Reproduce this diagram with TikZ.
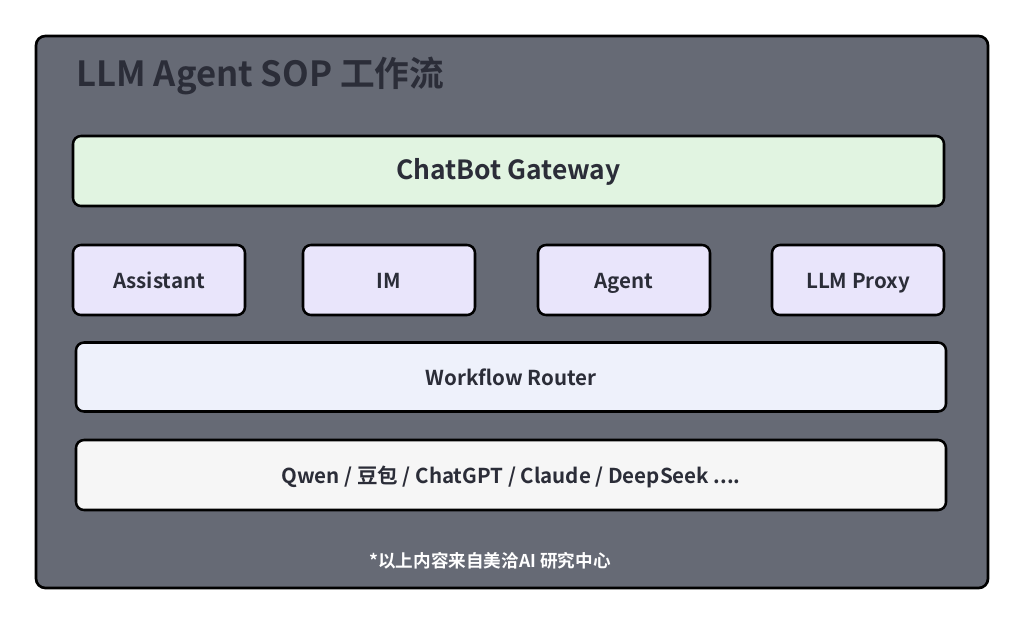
\documentclass[tikz,border=0pt]{standalone}
\usepackage{fontspec}
\setmainfont{Noto Sans CJK SC}[BoldFont={* Bold}]
\newfontfamily\cjkb{Noto Sans CJK SC Bold}
\definecolor{panel}{HTML}{666A75}
\definecolor{ink}{HTML}{2B2D38}
\definecolor{gw}{HTML}{E1F4E1}
\definecolor{lav}{HTML}{E9E5FB}
\definecolor{router}{HTML}{EEF1FB}
\definecolor{model}{HTML}{F6F6F6}
\tikzset{
  box/.style={draw=black, line width=1.9pt, rounded corners=6pt, inner sep=0pt, text=ink, text height=1.22em, text depth=0pt},
  lbl/.style={font=\cjkb\fontsize{15.4}{18}\selectfont},
}
\begin{document}
\begin{tikzpicture}[x=0.75pt,y=-0.75pt]
\useasboundingbox (0,0) rectangle (1024,625);
\fill[white] (0,0) rectangle (1024,625);
\draw[fill=panel, line width=2pt, rounded corners=7pt] (36,36) rectangle (988,588);
\node[anchor=base west, inner sep=0pt, text=ink, font=\cjkb\fontsize{26}{30}\selectfont] (title) at (76,86) {LLM Agent SOP 工作流};
\node[box, fill=gw, minimum width=871*0.75pt, minimum height=70*0.75pt, font=\cjkb\fontsize{19.8}{23}\selectfont] (gw) at (508.5,171) {ChatBot Gateway};
\node[box, lbl, fill=lav, minimum width=172*0.75pt, minimum height=70*0.75pt] (assistant) at (159,280) {Assistant};
\node[box, lbl, fill=lav, minimum width=172*0.75pt, minimum height=70*0.75pt] (im) at (389,280) {IM};
\node[box, lbl, fill=lav, minimum width=172*0.75pt, minimum height=70*0.75pt] (agent) at (624,280) {Agent};
\node[box, lbl, fill=lav, minimum width=172*0.75pt, minimum height=70*0.75pt] (proxy) at (858,280) {LLM Proxy};
\node[box, lbl, fill=router, minimum width=870*0.75pt, minimum height=69*0.75pt] (router) at (511,377) {Workflow Router};
\node[box, lbl, fill=model, minimum width=870*0.75pt, minimum height=70*0.75pt] (models) at (511,475) {Qwen / 豆包 / ChatGPT / Claude / DeepSeek ....};
\node[text=white, font=\cjkb\fontsize{13.2}{15}\selectfont] (note) at (490,561) {*以上内容来自美洽AI 研究中心};
\end{tikzpicture}
\end{document}
